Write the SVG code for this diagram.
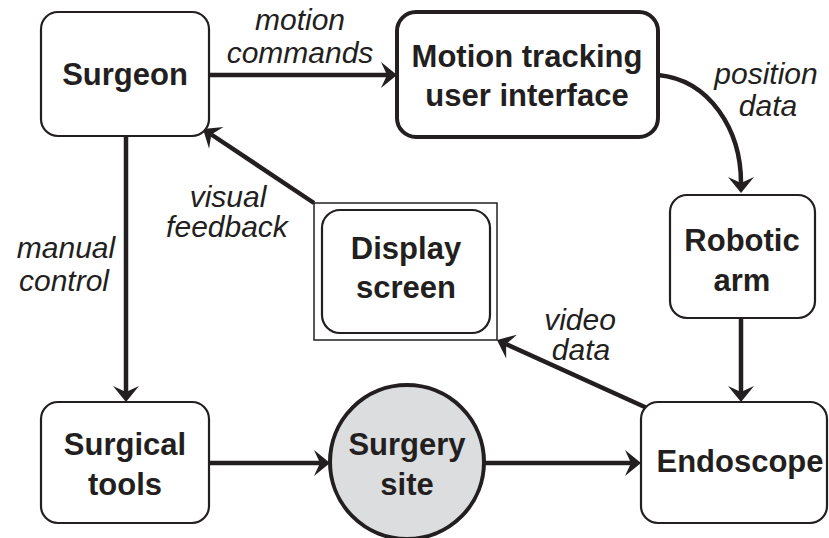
<svg xmlns="http://www.w3.org/2000/svg" width="829" height="538" viewBox="0 0 829 538">
<defs>
<style>
.box{fill:#fff;stroke:#231f20;stroke-width:2.2}
.thick{stroke-width:4}
.t{font-family:"Liberation Sans",Arial,Helvetica,sans-serif;font-size:31px;font-weight:bold;fill:#231f20;text-anchor:middle}
.l{font-family:"Liberation Sans",Arial,Helvetica,sans-serif;font-size:30px;font-style:italic;fill:#231f20;text-anchor:middle}
.c{fill:none;stroke:#231f20;stroke-width:4.5}
</style>
<marker id="ah" markerUnits="userSpaceOnUse" markerWidth="17" markerHeight="26" refX="6" refY="13" orient="auto" overflow="visible">
<path d="M0,0 L16,13 L0,26 L6,13 Z" fill="#231f20"/>
</marker>
</defs>
<rect width="829" height="538" fill="#fff"/>
<g id="connectors">
<path class="c" d="M209,75 H387" marker-end="url(#ah)"/>
<path class="c" d="M658,75 C710,80 741,130 741,183" marker-end="url(#ah)"/>
<path class="c" d="M741,318 V392" marker-end="url(#ah)"/>
<path class="c" d="M647,408 L506.1,344.1" marker-end="url(#ah)"/>
<path class="c" d="M314,203 L211.3,134.5" marker-end="url(#ah)"/>
<path class="c" d="M126,136 V392" marker-end="url(#ah)"/>
<path class="c" d="M209,463 H320" marker-end="url(#ah)"/>
<path class="c" d="M485,463 H631" marker-end="url(#ah)"/>
</g>
<g id="labels">
<text class="l" x="300" y="30">motion</text>
<text class="l" x="300" y="63">commands</text>
<text class="l" x="766" y="84">position</text>
<text class="l" x="768" y="116">data</text>
<text class="l" x="228" y="207">visual</text>
<text class="l" x="227" y="237">feedback</text>
<text class="l" x="66" y="258">manual</text>
<text class="l" x="64" y="291">control</text>
<text class="l" x="580" y="330">video</text>
<text class="l" x="581" y="360">data</text>
</g>
<g id="surgeon">
<rect class="box" x="41" y="12" width="168" height="124" rx="17"/>
<text class="t" x="125" y="85">Surgeon</text>
</g>
<g id="motion-tracking">
<rect class="box thick" x="397" y="12" width="261" height="125" rx="19"/>
<text class="t" x="527" y="67">Motion tracking</text>
<text class="t" x="527" y="106">user interface</text>
</g>
<g id="robotic-arm">
<rect class="box" x="670" y="195" width="145" height="123" rx="17"/>
<text class="t" x="742" y="251">Robotic</text>
<text class="t" x="742" y="291">arm</text>
</g>
<g id="display-screen">
<rect x="314" y="203" width="183" height="137" fill="#fff" stroke="#231f20" stroke-width="1.5"/>
<rect class="box" x="322" y="210" width="168" height="123" rx="18"/>
<text class="t" x="406" y="259">Display</text>
<text class="t" x="406" y="298">screen</text>
</g>
<g id="surgical-tools">
<rect class="box" x="41" y="402" width="168" height="121" rx="17"/>
<text class="t" x="125" y="455">Surgical</text>
<text class="t" x="125" y="495">tools</text>
</g>
<g id="surgery-site">
<circle cx="407" cy="462" r="77" fill="#dcdddf" stroke="#231f20" stroke-width="4"/>
<text class="t" x="407" y="455">Surgery</text>
<text class="t" x="407" y="495">site</text>
</g>
<g id="endoscope">
<rect class="box" x="641" y="402" width="186" height="121" rx="17"/>
<text class="t" x="740" y="472">Endoscope</text>
</g>
</svg>
